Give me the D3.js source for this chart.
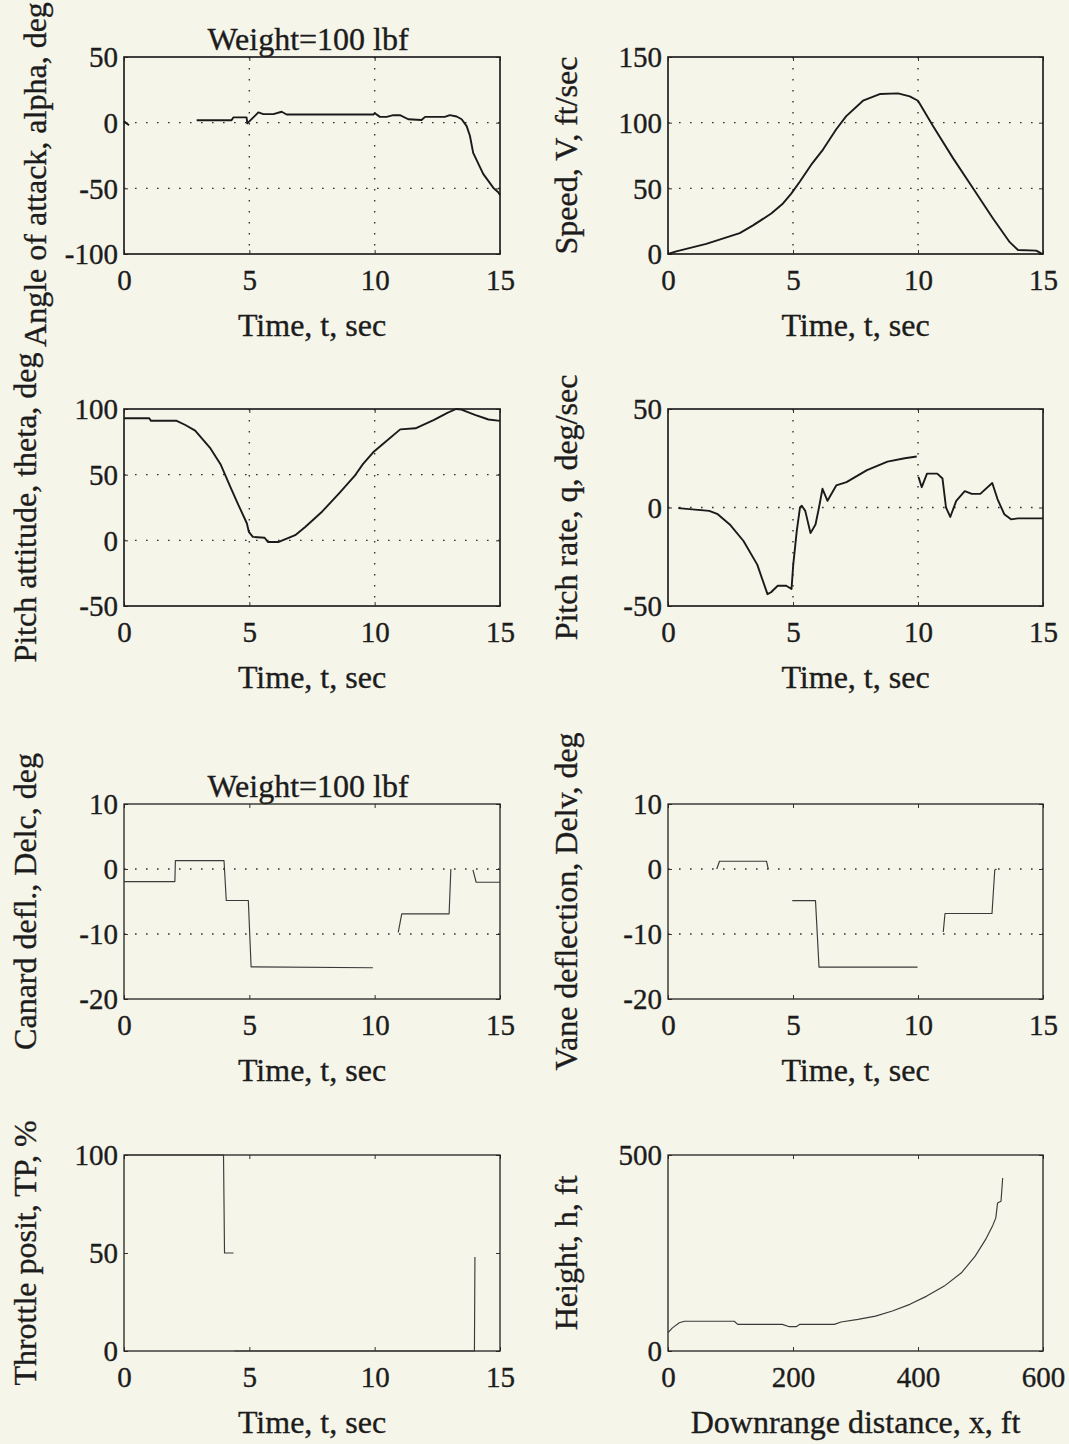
<!DOCTYPE html>
<html><head><meta charset="utf-8">
<script src="https://cdn.jsdelivr.net/npm/d3@7"></script>
<style>
html,body{margin:0;padding:0;background:#f6f5e9;}
svg{display:block;}
</style></head><body>
<svg id="chart" width="1069" height="1444"></svg>
<script>
// ---------------- data ----------------
const timeTicks = [0, 5, 10, 15];
const alphaTicks = [-100, -50, 0, 50];
const speedTicks = [0, 50, 100, 150];
const thetaTicks = [-50, 0, 50, 100];
const qTicks = [-50, 0, 50];
const deflTicks = [-20, -10, 0, 10];
const tpTicks = [0, 50, 100];
const rangeTicks = [0, 200, 400, 600];
const heightTicks = [0, 500];

const alphaT = [0, 0.2, null, 2.9, 4.29, 4.36, 4.89, 4.92, 5.36, 5.56, 5.96, 6.29, 6.49, 9.95, 10.01, 10.21, 10.48, 10.74, 11.01, 11.34, 11.87, 12.01, 12.8, 13.0, 13.27, 13.47, 13.67, 13.8, 13.93, 14.33, 14.73, 14.93, 15];
const alphaV = [1, -2, null, 1.8, 1.8, 4, 4, -0.5, 7.8, 6.5, 6.5, 8.3, 6.2, 6.2, 7.2, 4.4, 4.4, 5.7, 5.7, 2.6, 2, 4.4, 4.4, 5.7, 4.7, 2.6, -2.6, -10, -23, -39, -49.5, -53, -55];

const speedT = [0, 0.33, 1.53, 2.87, 3.4, 4.13, 4.6, 4.93, 5.27, 5.73, 6.2, 6.73, 7.13, 7.8, 8.47, 9.2, 9.67, 10.0, 10.6, 11.4, 12.2, 13.0, 13.67, 14.0, 14.73, 14.93, 15];
const speedV = [0, 2, 7.7, 15.9, 21.8, 30.8, 38.5, 46, 55, 68, 79.5, 95, 105, 116.7, 121.8, 122.3, 120, 116.7, 97.4, 73, 50, 27, 9, 3, 2.6, 0.5, 0];

const thetaT = [0, 1.0, 1.08, 2.1, 2.43, 2.84, 3.45, 3.85, 4.26, 4.53, 4.9, 4.98, 5.14, 5.61, 5.74, 6.15, 6.49, 6.83, 7.24, 7.91, 8.59, 9.2, 9.53, 9.94, 10.34, 11.02, 11.63, 12.37, 12.9, 13.25, 13.46, 14.0, 14.54, 15];
const thetaV = [93, 93, 91, 91, 88, 83.5, 70, 58, 40, 28.4, 13, 6.5, 2.6, 2, -1.3, -1.3, 1.3, 3.9, 10.3, 22, 36, 49, 58, 67, 73.6, 84.5, 85.3, 91.7, 97, 100, 99.5, 95.6, 92, 91];

const qT = [0.41, 1.65, 1.99, 2.47, 3.02, 3.57, 3.98, 4.12, 4.39, 4.73, 4.94, 5.01, 5.15, 5.28, 5.35, 5.49, 5.7, 5.9, 6.04, 6.18, 6.38, 6.73, 7.14, 7.96, 8.78, 9.47, 9.95, null, 10.02, 10.15, 10.36, 10.77, 10.98, 11.12, 11.29, 11.53, 11.87, 12.15, 12.49, 12.97, 13.18, 13.45, 13.72, 14.0, 15];
const qV = [-0.3, -1.7, -3.4, -8.6, -17, -29, -44, -43, -39.7, -39.7, -41.4, -29, -12, 0, 0.9, -1.7, -13, -8.6, 0, 9.5, 3.4, 11.2, 12.9, 19, 23.3, 25, 25.9, null, 15.5, 10.3, 17.2, 17.2, 14.7, 0, -4.8, 3.4, 8.3, 6.9, 6.9, 12.4, 4.3, -3.4, -6, -5.5, -5.5];

const delcT = [0, 2.03, 2.05, 3.99, 4.08, 4.96, 5.07, 9.93, null, 10.94, 11.08, 12.97, 13.04, null, 13.92, 14.05, 15];
const delcV = [-1.94, -1.94, 1.28, 1.28, -4.85, -4.85, -15.05, -15.2, null, -9.74, -6.9, -6.9, 0, null, -0.15, -2.04, -2.04];

const delvT = [1.95, 2.06, 3.94, 4.01, null, 4.97, 5.9, 6.04, 9.98, null, 11.01, 11.08, 12.96, 13.07, 13.14];
const delvV = [0, 1.2, 1.2, 0, null, -4.87, -4.87, -15.1, -15.1, null, -9.7, -6.85, -6.85, -0.15, 0];

const tpT = [0, 3.97, 4.01, 4.37, null, 4.4, 13.98, 14.0];
const tpV = [100, 100, 50, 50, null, 0, 0, 48];

const rangeX = [0, 7.1, 18.1, 26.4, 106, 111.6, 183, 194, 205, 211, 266, 277, 304, 332, 359, 387, 414, 442, 469.5, 491.5, 508, 519, 524.5, 527.3, 532.8, 535.5];
const heightH = [46.7, 59, 72, 76, 76, 68, 68, 62, 62, 68, 68, 74, 80.6, 89, 102, 119, 140, 165.5, 199.5, 242, 284, 318, 339.6, 377.8, 382, 441.4];

// ---------------- layout ----------------
const BG = '#f6f5e9';
const INK = '#1c1c1c';
const FONT = "'Liberation Serif','Times New Roman',serif";
const TICK_FS = '29px';
const LABEL_FS = '32px';
const COLS = { L: [124, 500], R: [668, 1043] };
const ROWS = [[57, 254], [409, 606], [804, 999], [1155, 1351]];

const panels = [
  { col: 'L', row: 0, xd: [0, 15], yd: [-100, 50], xt: timeTicks, yt: alphaTicks, xg: [5, 10], yg: [-50, 0], title: 'Weight=100 lbf', xl: 'Time, t, sec', yl: 'Angle of attack, alpha, deg', xs: alphaT, ys: alphaV, heavy: true, ylx: 46, yly: 19 },
  { col: 'R', row: 0, xd: [0, 15], yd: [0, 150], xt: timeTicks, yt: speedTicks, xg: [5, 10], yg: [50, 100], xl: 'Time, t, sec', yl: 'Speed, V, ft/sec', xs: speedT, ys: speedV, heavy: true, ylx: 577 },
  { col: 'L', row: 1, xd: [0, 15], yd: [-50, 100], xt: timeTicks, yt: thetaTicks, xg: [5, 10], yg: [0, 50], xl: 'Time, t, sec', yl: 'Pitch attitude, theta, deg', xs: thetaT, ys: thetaV, heavy: true, ylx: 36 },
  { col: 'R', row: 1, xd: [0, 15], yd: [-50, 50], xt: timeTicks, yt: qTicks, xg: [5, 10], yg: [0], xl: 'Time, t, sec', yl: 'Pitch rate, q, deg/sec', xs: qT, ys: qV, heavy: true, ylx: 577 },
  { col: 'L', row: 2, xd: [0, 15], yd: [-20, 10], xt: timeTicks, yt: deflTicks, xg: [], yg: [-10, 0], title: 'Weight=100 lbf', xl: 'Time, t, sec', yl: 'Canard defl., Delc, deg', xs: delcT, ys: delcV, heavy: false, ylx: 36 },
  { col: 'R', row: 2, xd: [0, 15], yd: [-20, 10], xt: timeTicks, yt: deflTicks, xg: [], yg: [-10, 0], xl: 'Time, t, sec', yl: 'Vane deflection, Delv, deg', xs: delvT, ys: delvV, heavy: false, ylx: 577 },
  { col: 'L', row: 3, xd: [0, 15], yd: [0, 100], xt: timeTicks, yt: tpTicks, xg: [], yg: [], xl: 'Time, t, sec', yl: 'Throttle posit, TP, %', xs: tpT, ys: tpV, heavy: false, ylx: 36 },
  { col: 'R', row: 3, xd: [0, 600], yd: [0, 500], xt: rangeTicks, yt: heightTicks, xg: [], yg: [], xl: 'Downrange distance, x, ft', yl: 'Height, h, ft', xs: rangeX, ys: heightH, heavy: false, ylx: 577 }
];

const svg = d3.select('#chart');
svg.append('rect').attr('width', 1069).attr('height', 1444).attr('fill', BG);

function styleText(sel, size) {
  sel.attr('fill', INK).attr('stroke', INK).attr('stroke-width', 0.35)
    .style('font-family', FONT).style('font-size', size);
}

panels.forEach(p => {
  const [x0, x1] = COLS[p.col];
  const [y0, y1] = ROWS[p.row];
  const x = d3.scaleLinear().domain(p.xd).range([x0, x1]);
  const y = d3.scaleLinear().domain(p.yd).range([y1, y0]);
  const g = svg.append('g');

  // dotted grid
  g.selectAll('line.vg').data(p.xg).join('line').attr('class', 'vg')
    .attr('x1', d => x(d)).attr('x2', d => x(d)).attr('y1', y0).attr('y2', y1)
    .attr('stroke', '#333').attr('stroke-width', 1.4).attr('stroke-dasharray', '1.6,9.4');
  g.selectAll('line.hg').data(p.yg).join('line').attr('class', 'hg')
    .attr('x1', x0).attr('x2', x1).attr('y1', d => y(d)).attr('y2', d => y(d))
    .attr('stroke', '#333').attr('stroke-width', 1.4).attr('stroke-dasharray', '1.6,9.4');

  // axes
  const fmt = d => String(d);
  const bx = g.append('g').attr('transform', `translate(0,${y1})`)
    .call(d3.axisBottom(x).tickValues(p.xt).tickSize(-4).tickFormat(fmt));
  const lx = g.append('g').attr('transform', `translate(${x0},0)`)
    .call(d3.axisLeft(y).tickValues(p.yt).tickSize(-4).tickFormat(fmt));
  g.append('g').attr('transform', `translate(0,${y0})`)
    .call(d3.axisTop(x).tickValues(p.xt).tickSize(-4).tickFormat(''));
  g.append('g').attr('transform', `translate(${x1},0)`)
    .call(d3.axisRight(y).tickValues(p.yt).tickSize(-4).tickFormat(''));
  g.selectAll('.domain').remove();
  g.selectAll('.tick line').attr('stroke', '#333').attr('stroke-width', 1);
  styleText(bx.selectAll('text').attr('y', 36).attr('dy', null), TICK_FS);
  styleText(lx.selectAll('text').attr('x', -6).attr('dy', '0.34em'), TICK_FS);

  // box
  g.append('rect').attr('x', x0).attr('y', y0).attr('width', x1 - x0).attr('height', y1 - y0)
    .attr('fill', 'none').attr('stroke', '#222').attr('stroke-width', p.heavy ? 1.7 : 1.3);

  // data line
  const pts = p.xs.map((v, i) => [v, p.ys[i]]);
  const line = d3.line().defined(d => d[0] != null && d[1] != null)
    .x(d => x(d[0])).y(d => y(d[1]));
  g.append('path').attr('d', line(pts)).attr('fill', 'none')
    .attr('stroke', p.heavy ? '#1a1a1a' : '#3a3a3a')
    .attr('stroke-width', p.heavy ? 1.9 : 1.15)
    .attr('stroke-linejoin', 'round');

  // labels
  const cx = (x0 + x1) / 2, cy = (y0 + y1) / 2 + (p.yly || 0);
  styleText(g.append('text').attr('x', cx).attr('y', y1 + 82).attr('text-anchor', 'middle').text(p.xl), LABEL_FS);
  styleText(g.append('text').attr('transform', `translate(${p.ylx},${cy}) rotate(-90)`)
    .attr('text-anchor', 'middle').text(p.yl), LABEL_FS);
  if (p.title) {
    styleText(g.append('text').attr('x', cx - 4).attr('y', y0 - 7).attr('text-anchor', 'middle').text(p.title), LABEL_FS);
  }
});
</script>
</body></html>
